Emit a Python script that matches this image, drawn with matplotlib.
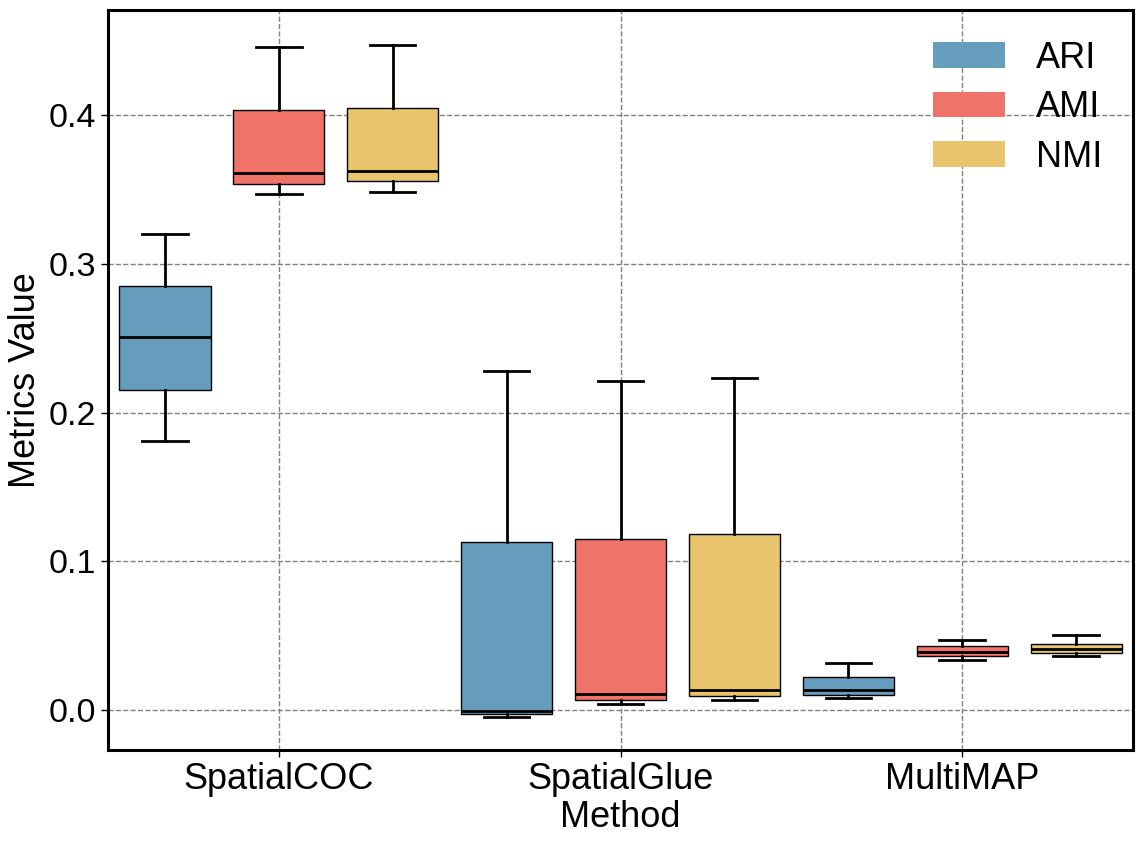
import matplotlib
matplotlib.use("Agg")
import matplotlib.pyplot as plt
from matplotlib.patches import Patch

plt.rcParams['font.family'] = ['Liberation Sans', 'DejaVu Sans']

methods = ["SpatialCOC", "SpatialGlue", "MultiMAP"]
metrics = ["ARI", "AMI", "NMI"]
colors = ["#669dbd", "#f0736a", "#e8c46c"]

# box statistics per metric, per method: [whislo, q1, median, q3, whishi]
ari_stats = [[0.181, 0.2154, 0.2505, 0.285, 0.3199],
             [-0.0045, -0.0027, -0.0005, 0.1132, 0.2277],
             [0.0078, 0.0101, 0.0132, 0.0221, 0.0313]]
ami_stats = [[0.3467, 0.3537, 0.3613, 0.4034, 0.446],
             [0.0038, 0.0069, 0.0105, 0.1152, 0.221],
             [0.0338, 0.0362, 0.0387, 0.043, 0.0474]]
nmi_stats = [[0.3485, 0.3554, 0.3626, 0.4047, 0.4472],
             [0.0064, 0.0094, 0.0132, 0.1181, 0.223],
             [0.0366, 0.0383, 0.0413, 0.0447, 0.0501]]
all_stats = [ari_stats, ami_stats, nmi_stats]

fig = plt.figure(figsize=(11.41, 8.42), dpi=100)
ax = fig.add_axes([108/1141, 1 - 750/842, (1133-108)/1141, (750-10)/842])

slot = 1.0 / 3
bw = slot * 0.8
for mi, (stats, col) in enumerate(zip(all_stats, colors)):
    offset = (mi - 1) * slot
    bxp_stats = []
    for s in stats:
        bxp_stats.append(dict(whislo=s[0], q1=s[1], med=s[2], q3=s[3], whishi=s[4], fliers=[]))
    positions = [i + offset for i in range(len(methods))]
    ax.bxp(bxp_stats, positions=positions, widths=bw, patch_artist=True, showfliers=False,
           boxprops=dict(facecolor=col, edgecolor='black', linewidth=1.0),
           medianprops=dict(color='black', linewidth=2.0),
           whiskerprops=dict(color='black', linewidth=2.0),
           capprops=dict(color='black', linewidth=2.0),
           manage_ticks=False, zorder=3)

ax.set_xlim(-0.5, 2.5)
ax.set_ylim(-0.0269, 0.4707)
ax.set_xticks(range(len(methods)))
ax.set_xticklabels(methods)
ax.set_yticks([0.0, 0.1, 0.2, 0.3, 0.4])
ax.set_yticklabels(["0.0", "0.1", "0.2", "0.3", "0.4"])
ax.tick_params(axis='both', length=5, width=1)
ax.tick_params(axis='x', labelsize=26)
ax.tick_params(axis='y', labelsize=24.5)
ax.set_xlabel("Method", fontsize=26, labelpad=2)
ax.set_ylabel("Metrics Value", fontsize=26, labelpad=4)
ax.grid(True, linestyle='--', color='gray', linewidth=1.0, zorder=0)
ax.set_axisbelow(True)
for sp in ax.spines.values():
    sp.set_linewidth(2.2)

handles = [Patch(facecolor=c, edgecolor='none', label=m) for c, m in zip(colors, metrics)]
ax.legend(handles=handles, loc='upper right', frameon=False, fontsize=26,
          handlelength=2.0, handleheight=0.7, labelspacing=0.4,
          handletextpad=0.85, borderaxespad=0.45)

fig.savefig("out.png", dpi=100)
